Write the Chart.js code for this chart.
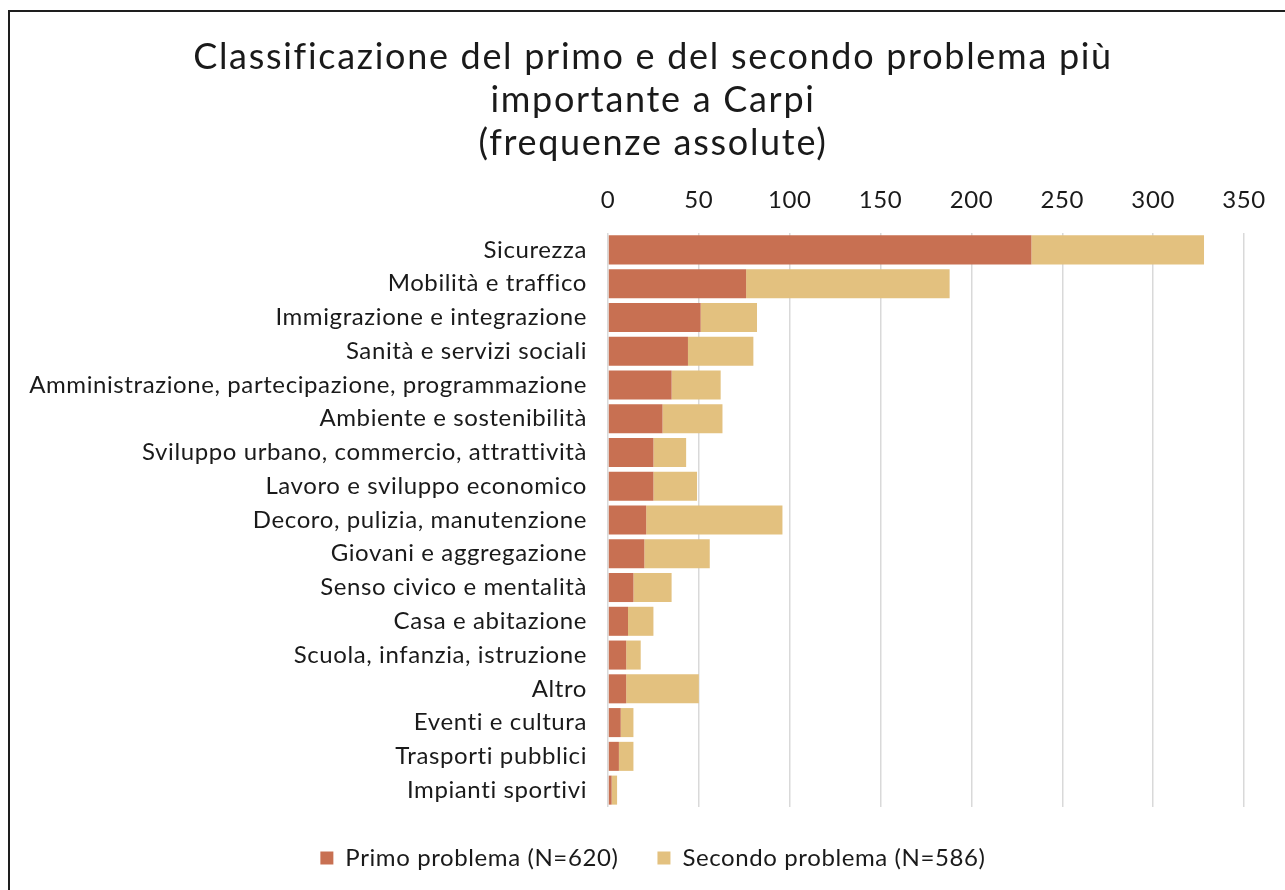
<!DOCTYPE html>
<html>
<head>
<meta charset="utf-8">
<script src="https://cdn.jsdelivr.net/npm/chart.js@4.4.1/dist/chart.umd.min.js"></script>
<style>
  html, body { margin: 0; padding: 0; background: #fff; overflow: hidden; }
  #box { position: absolute; left: 8px; top: 10px; width: 1286px; height: 900px; border: 2px solid #1e1e1e; background: #fff; }
  #wrap { position: relative; width: 1286px; height: 900px; }
</style>
</head>
<body>
<div id="box"><div id="wrap"><canvas id="c"></canvas></div></div>
<script>
const categories = [
  "Sicurezza",
  "Mobilità e traffico",
  "Immigrazione e integrazione",
  "Sanità e servizi sociali",
  "Amministrazione, partecipazione, programmazione",
  "Ambiente e sostenibilità",
  "Sviluppo urbano, commercio, attrattività",
  "Lavoro e sviluppo economico",
  "Decoro, pulizia, manutenzione",
  "Giovani e aggregazione",
  "Senso civico e mentalità",
  "Casa e abitazione",
  "Scuola, infanzia, istruzione",
  "Altro",
  "Eventi e cultura",
  "Trasporti pubblici",
  "Impianti sportivi"
];
const primoProblema   = [233, 76, 51, 44, 35, 30, 25, 25, 21, 20, 14, 11, 10, 10, 7, 6, 2];
const secondoProblema = [95, 112, 31, 36, 27, 33, 18, 24, 75, 36, 21, 14, 8, 40, 7, 8, 3];
const seriesLabels = ["Primo problema (N=620)", "Secondo problema (N=586)"];
const titleLines = ["Classificazione del primo e del secondo problema più", "importante a Carpi", "(frequenze assolute)"];
const xTicks = [0, 50, 100, 150, 200, 250, 300, 350];

// Widen the text slightly (the original uses a wide geometric face)
(function () {
  const proto = CanvasRenderingContext2D.prototype;
  if (!("letterSpacing" in proto)) return;
  const spacing = (ctx) => {
    const m = /(\d+(?:\.\d+)?)px/.exec(ctx.font);
    const s = m ? parseFloat(m[1]) : 12;
    return s >= 30 ? "1.7px" : (s >= 19 ? "0.6px" : "0px");
  };
  const ft = proto.fillText, mt = proto.measureText;
  proto.fillText = function (t, x, y, w) {
    this.letterSpacing = spacing(this);
    return w === undefined ? ft.call(this, t, x, y) : ft.call(this, t, x, y, w);
  };
  proto.measureText = function (t) {
    this.letterSpacing = spacing(this);
    return mt.call(this, t);
  };
})();

const FONT = "Lato, 'Open Sans', sans-serif";
const TXT = "#1a1a1a";

new Chart(document.getElementById("c"), {
  type: "bar",
  data: {
    labels: categories,
    datasets: [
      { label: seriesLabels[0], data: primoProblema, backgroundColor: "#C87052", borderWidth: 0 },
      { label: seriesLabels[1], data: secondoProblema, backgroundColor: "#E3C17F", borderWidth: 0 }
    ]
  },
  options: {
    indexAxis: "y",
    responsive: true,
    maintainAspectRatio: false,
    animation: false,
    datasets: { bar: { categoryPercentage: 0.86, barPercentage: 1.0 } },
    layout: { padding: { left: 0, right: 0, top: 0, bottom: 32 } },
    plugins: {
      title: {
        display: true,
        text: titleLines,
        color: TXT,
        font: { family: FONT, size: 36, weight: "normal", lineHeight: 1.2 },
        padding: { top: 23.4, bottom: 2 }
      },
      legend: {
        display: true,
        position: "bottom",
        labels: {
          color: TXT,
          font: { family: FONT, size: 24 },
          boxWidth: 13,
          boxHeight: 13,
          padding: 39
        }
      },
      tooltip: { enabled: false }
    },
    scales: {
      x: {
        position: "top",
        stacked: true,
        min: 0,
        max: 350,
        afterBuildTicks: (s) => { s.ticks = xTicks.map(v => ({ value: v })); },
        afterFit: (s) => { s.paddingRight = 52; },
        ticks: { color: TXT, font: { family: FONT, size: 24 }, padding: 18.6 },
        grid: { color: "#d9d9d9", lineWidth: 1.5, drawTicks: false },
        border: { display: false }
      },
      y: {
        stacked: true,
        afterFit: (s) => { s.width = 598; },
        ticks: { color: TXT, font: { family: FONT, size: 24 }, padding: 21 },
        grid: { display: false, drawTicks: false },
        border: { display: false }
      }
    }
  }
});
</script>
</body>
</html>
